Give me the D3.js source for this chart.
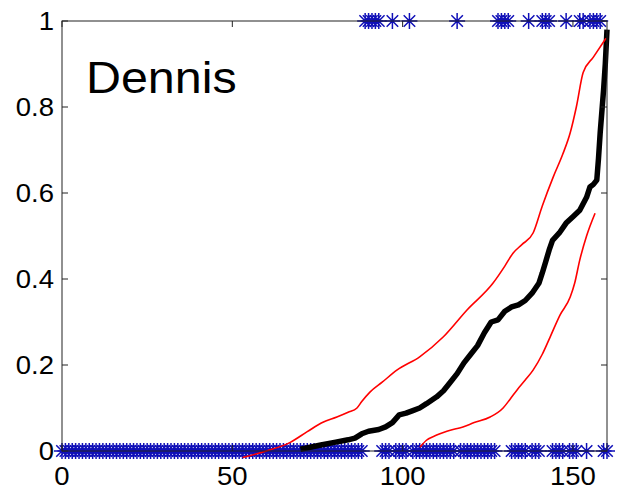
<!DOCTYPE html>
<html>
<head>
<meta charset="utf-8">
<script src="https://cdn.jsdelivr.net/npm/d3@7"></script>
<style>
  body { margin: 0; background: #fff; }
  text { font-family: "Liberation Sans", Arial, sans-serif; fill: #000; }
</style>
</head>
<body>
<div id="chart"></div>
<script>
// frame
const FRAME_WIDTH = 617;
const FRAME_HEIGHT = 493;
const MARGINS = {left: 62, right: 10, top: 21, bottom: 42};
const VIS_WIDTH = FRAME_WIDTH - MARGINS.left - MARGINS.right;
const VIS_HEIGHT = FRAME_HEIGHT - MARGINS.top - MARGINS.bottom;

// data
const X_TICKS = [0, 50, 100, 150];
const Y_TICKS = [0, 0.2, 0.4, 0.6, 0.8, 1];
const Y_TICK_LABELS = ["0", "0.2", "0.4", "0.6", "0.8", "1"];
const LABEL = "Dennis";

// index of each event that has outcome 1 (others are 0)
const ONES = [89, 90, 91, 92, 93, 97, 102, 116, 128, 129, 130, 131, 137,
              141, 142, 143, 148, 152, 153, 155, 156, 157, 158];
const N_EVENTS = 160;

// cumulative estimate (black)
const meanX = [70, 76, 80, 84, 86, 88, 90, 93, 95, 97, 99, 101, 103, 105, 107, 110,
               112, 114, 116, 118, 120, 122, 124, 126, 128, 130, 132, 134, 136, 138, 140,
               141, 142, 143, 144, 146, 148, 150, 152, 154, 155, 156, 157, 157.5, 158, 158.5,
               159, 159.5, 160];
const meanY = [0.004, 0.014, 0.02, 0.026, 0.03, 0.04, 0.046, 0.05, 0.056, 0.066, 0.084, 0.088,
               0.094, 0.1, 0.11, 0.126, 0.14, 0.16, 0.18, 0.205, 0.225, 0.245, 0.275, 0.3,
               0.305, 0.325, 0.335, 0.34, 0.35, 0.367, 0.39, 0.414, 0.44, 0.467, 0.49, 0.507,
               0.53, 0.545, 0.56, 0.59, 0.614, 0.62, 0.63, 0.68, 0.74, 0.79, 0.84, 0.9, 0.98];

// upper band (red)
const upperX = [53, 60, 67, 72, 76.6, 80.7, 84, 86.6, 88, 90.4, 94, 98.3, 105, 111.9, 118.9,
                126.5, 130, 132.4, 135, 138.3, 141, 144.2, 147, 149.2, 151, 153, 156, 159.7];
const upperY = [-0.015, 0.0, 0.02, 0.045, 0.067, 0.079, 0.09, 0.1, 0.115, 0.137, 0.16, 0.188,
                0.219, 0.265, 0.328, 0.39, 0.43, 0.46, 0.48, 0.507, 0.57, 0.637, 0.69, 0.74,
                0.8, 0.88, 0.916, 0.96];

// lower band (red)
const lowerX = [105.1, 107, 110, 113, 117.7, 121, 125.7, 129.5, 131.5, 133.6, 136, 138.3, 141,
                143.3, 146.2, 149.2, 150.5, 152, 154, 156.5];
const lowerY = [0.009, 0.025, 0.037, 0.046, 0.056, 0.066, 0.079, 0.1, 0.12, 0.142, 0.165, 0.188,
                0.225, 0.265, 0.316, 0.358, 0.39, 0.444, 0.5, 0.553];

const FRAME = d3.select("#chart")
                .append("svg")
                .attr("width", FRAME_WIDTH)
                .attr("height", FRAME_HEIGHT);

const X_SCALE = d3.scaleLinear().domain([0, 160]).range([MARGINS.left, MARGINS.left + VIS_WIDTH]);
const Y_SCALE = d3.scaleLinear().domain([0, 1]).range([MARGINS.top + VIS_HEIGHT, MARGINS.top]);

// events as asterisk markers
const events = d3.range(0, N_EVENTS + 1).map(i => ({x: i, y: ONES.includes(i) ? 1 : 0}));
const R = 8;
const D = R * 0.72;
const star = `M${-R},0L${R},0M0,${-R}L0,${R}M${-D},${-D}L${D},${D}M${-D},${D}L${D},${-D}`;

FRAME.append("g")
  .selectAll("path")
  .data(events)
  .enter()
  .append("path")
    .attr("d", star)
    .attr("transform", d => `translate(${X_SCALE(d.x)},${Y_SCALE(d.y)})`)
    .attr("fill", "none")
    .attr("stroke", "#1010b8")
    .attr("stroke-width", 1.5);

// lines
const line = d3.line().x(d => X_SCALE(d[0])).y(d => Y_SCALE(d[1]));

FRAME.append("path")
  .datum(meanX.map((x, i) => [x, meanY[i]]))
  .attr("d", line)
  .attr("fill", "none")
  .attr("stroke", "#000")
  .attr("stroke-width", 5.5)
  .attr("stroke-linejoin", "round");

line.curve(d3.curveMonotoneX);
[[upperX, upperY], [lowerX, lowerY]].forEach(([xs, ys]) => {
  FRAME.append("path")
    .datum(xs.map((x, i) => [x, ys[i]]))
    .attr("d", line)
    .attr("fill", "none")
    .attr("stroke", "#ff0000")
    .attr("stroke-width", 1.6);
});

// axes box with inward ticks
const x0 = X_SCALE(0), x1 = X_SCALE(160), y0 = Y_SCALE(0), y1 = Y_SCALE(1);
FRAME.append("rect")
  .attr("x", x0).attr("y", y1)
  .attr("width", x1 - x0).attr("height", y0 - y1)
  .attr("fill", "none").attr("stroke", "#222").attr("stroke-width", 1);

const TICK = 6;
const ticks = FRAME.append("g").attr("stroke", "#222").attr("stroke-width", 1);
X_TICKS.forEach(t => {
  ticks.append("line").attr("x1", X_SCALE(t)).attr("x2", X_SCALE(t)).attr("y1", y0).attr("y2", y0 - TICK);
  ticks.append("line").attr("x1", X_SCALE(t)).attr("x2", X_SCALE(t)).attr("y1", y1).attr("y2", y1 + TICK);
});
Y_TICKS.forEach(t => {
  ticks.append("line").attr("x1", x0).attr("x2", x0 + TICK).attr("y1", Y_SCALE(t)).attr("y2", Y_SCALE(t));
  ticks.append("line").attr("x1", x1).attr("x2", x1 - TICK).attr("y1", Y_SCALE(t)).attr("y2", Y_SCALE(t));
});

// tick labels (the picture is slightly stretched horizontally)
const SX = 1.1;
X_TICKS.forEach(t => {
  FRAME.append("text")
    .attr("transform", `translate(${X_SCALE(t)},${y0 + 34}) scale(${SX},1)`)
    .attr("text-anchor", "middle")
    .style("font-size", "25px")
    .text(t);
});
Y_TICKS.forEach((t, i) => {
  FRAME.append("text")
    .attr("transform", `translate(${x0 - 8},${Y_SCALE(t) + 9}) scale(${SX},1)`)
    .attr("text-anchor", "end")
    .style("font-size", "25px")
    .text(Y_TICK_LABELS[i]);
});

FRAME.append("text")
  .attr("transform", `translate(86,93) scale(${SX},1)`)
  .style("font-size", "44px")
  .text(LABEL);
</script>
</body>
</html>
